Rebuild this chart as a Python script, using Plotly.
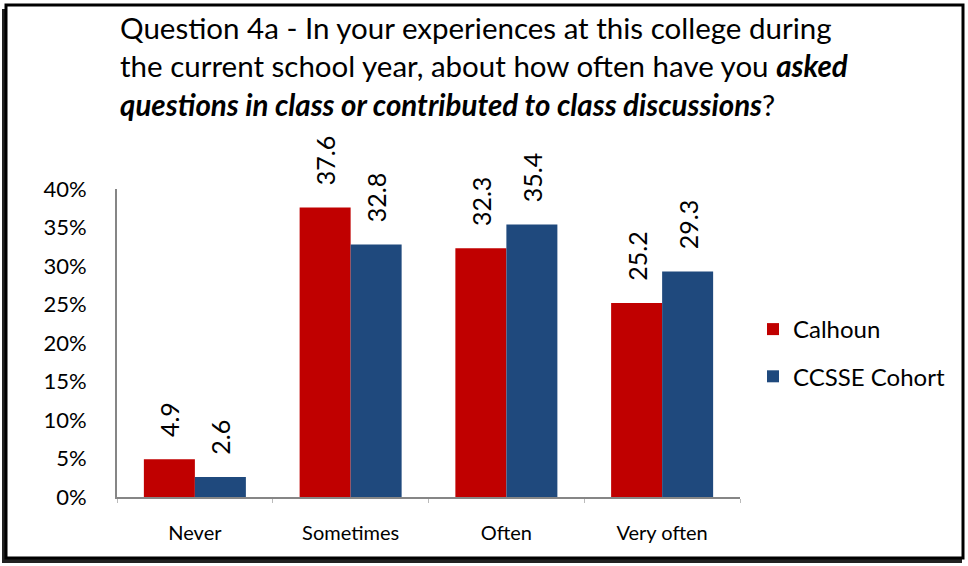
import plotly.graph_objects as go

categories = ["Never", "Sometimes", "Often", "Very often"]
calhoun = [4.9, 37.6, 32.3, 25.2]
ccsse = [2.6, 32.8, 35.4, 29.3]
series_names = ["Calhoun", "CCSSE Cohort"]
y_ticks = [0, 5, 10, 15, 20, 25, 30, 35, 40]
y_tick_labels = [f"{v}%" for v in y_ticks]

W, H = 968, 566
L, R, T, B = 117, 740, 189, 497
FONT = "Lato, Carlito, Calibri, sans-serif"


def px(x):
    return (x - L) / (R - L)


def py(y):
    return (B - y) / (B - T)


fig = go.Figure()
for name, vals, col, grp in [(series_names[0], calhoun, "#C00000", "a"),
                             (series_names[1], ccsse, "#1F497D", "b")]:
    fig.add_trace(go.Bar(
        x=categories, y=vals, name=name, marker=dict(color=col, line=dict(width=0)),
        text=[f"\u00a0\u00a0\u00a0{v:.1f}" for v in vals], textposition="outside",
        textangle=-90, textfont=dict(family=FONT, size=25, color="#000"),
        constraintext="none",
        cliponaxis=False, legendgroup=grp, hoverinfo="skip",
    ))

shapes = [
    dict(type="rect", xref="paper", yref="paper", x0=px(2), x1=px(962), y0=py(9), y1=py(563),
         fillcolor="#222", line=dict(width=0), layer="below"),
    dict(type="rect", xref="paper", yref="paper", x0=px(6), x1=px(963), y0=py(5), y1=py(558),
         fillcolor="white", line=dict(color="black", width=3), layer="below"),
]

fig.update_layout(
    width=W, height=H,
    margin=dict(l=L, r=W - R, t=T, b=H - B, pad=0),
    paper_bgcolor="white", plot_bgcolor="white",
    barmode="group", bargap=0.345, bargroupgap=0,
    font=dict(family=FONT, color="#000"),
    showlegend=True,
    legend=dict(x=px(753), y=py(307), xanchor="left", yanchor="top",
                font=dict(family=FONT, size=24), tracegroupgap=13,
                itemwidth=30, traceorder="grouped", bgcolor="rgba(0,0,0,0)"),
    xaxis=dict(showline=True, linecolor="#868686", linewidth=2, showgrid=False,
               ticks="outside", tickson="boundaries", ticklen=4, tickcolor="#BBBBBB",
               tickfont=dict(family=FONT, size=20), ticklabelstandoff=17),
    yaxis=dict(range=[0, 40], tickvals=y_ticks, ticktext=y_tick_labels,
               showline=True, linecolor="#868686", linewidth=2, showgrid=False,
               zeroline=False, ticks="", tickfont=dict(family=FONT, size=22),
               ticklabelstandoff=24),
    shapes=shapes,
    annotations=[dict(
        xref="paper", yref="paper", x=px(118), y=py(8), xanchor="left", yanchor="top",
        align="left", showarrow=False,
        font=dict(family=FONT, size=29.5, color="#000"),
        text=("Question 4a - In your experiences at this college during<br>"
              "the current school year, about how often have you <b><i>asked</i></b><br>"
              "<b><i>questions in class or contributed to class discussions</i></b>?"),
    )],
)

fig.write_html("out.html", config={"displayModeBar": False},
               post_script="document.body.style.margin='0';document.body.style.overflow='hidden';")
